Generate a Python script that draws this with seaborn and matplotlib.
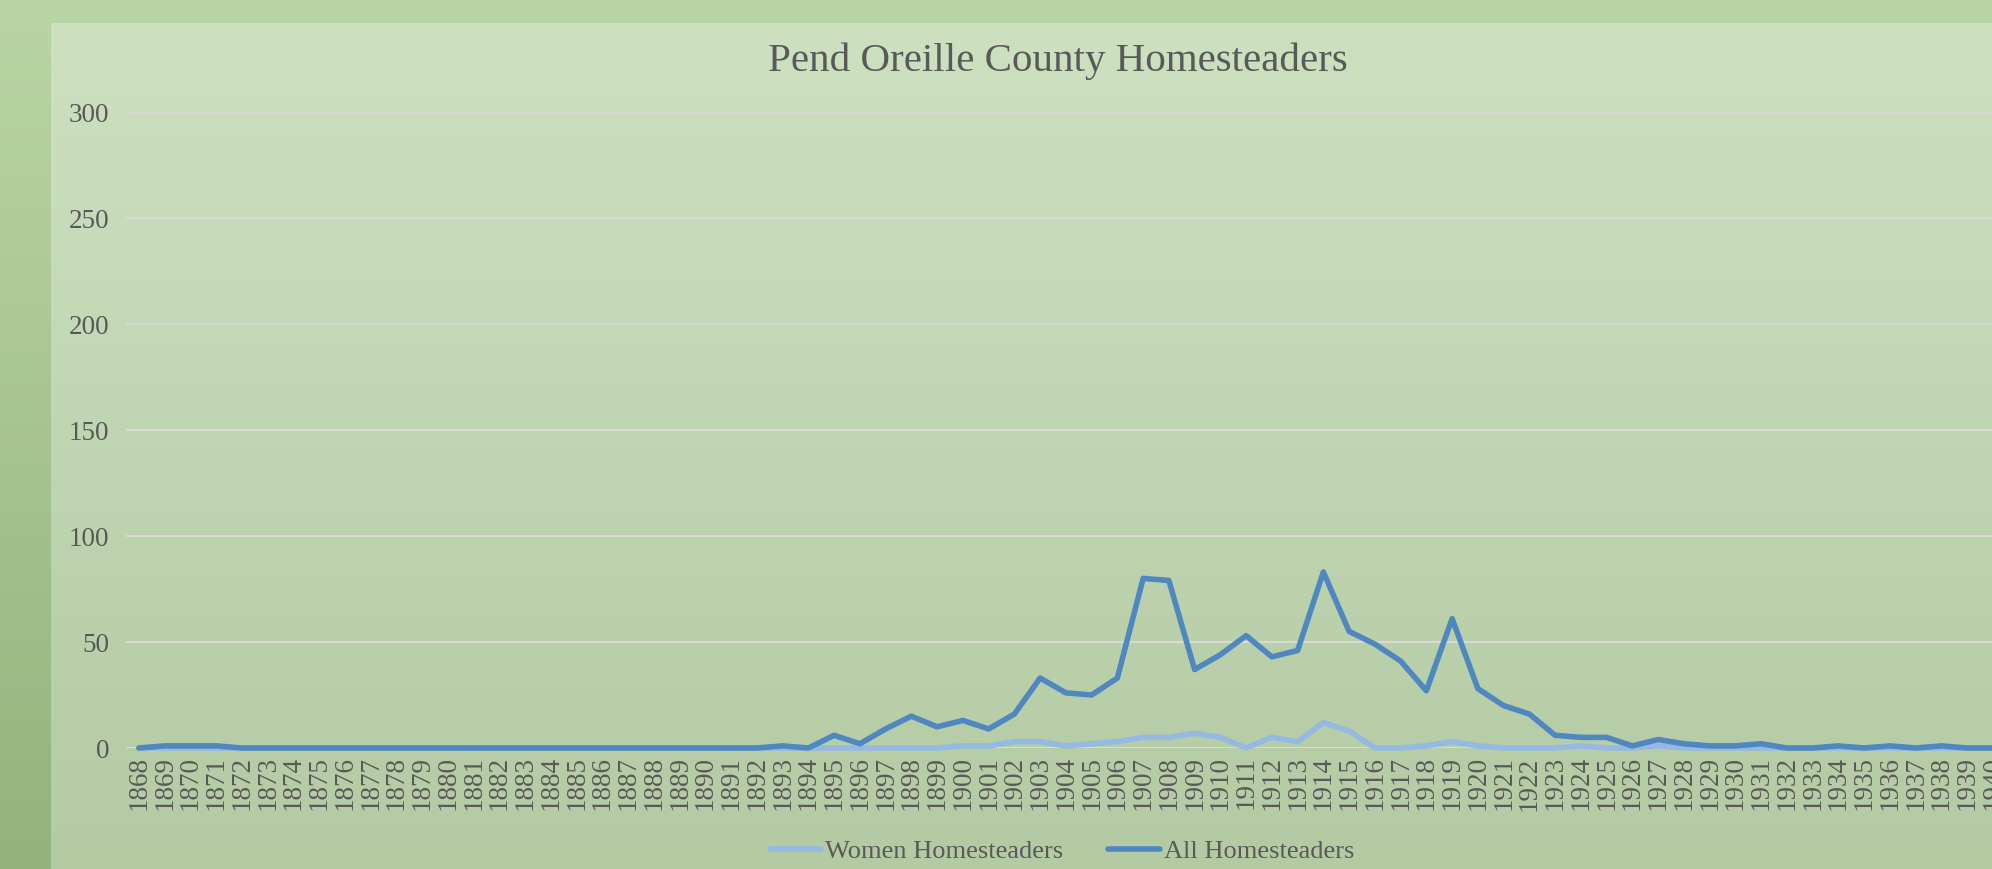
import numpy as np
import pandas as pd
import matplotlib
matplotlib.use("Agg")
import matplotlib.pyplot as plt
import matplotlib.colors as mcolors
import seaborn as sns

# values, 1868-1942
years = list(range(1868, 1943))
all_homesteaders = [
    0, 1, 1, 1, 0, 0, 0, 0, 0, 0,          # 1868-1877
    0, 0, 0, 0, 0, 0, 0, 0, 0, 0,          # 1878-1887
    0, 0, 0, 0, 0, 1, 0, 6, 2, 9,          # 1888-1897
    15, 10, 13, 9, 16, 33, 26, 25, 33, 80,  # 1898-1907
    79, 37, 44, 53, 43, 46, 83, 55, 49, 41,  # 1908-1917
    27, 61, 28, 20, 16, 6, 5, 5, 1, 4,     # 1918-1927
    2, 1, 1, 2, 0, 0, 1, 0, 1, 0,          # 1928-1937
    1, 0, 0, 0, 0,                         # 1938-1942
]
women_homesteaders = [
    0, 0, 0, 0, 0, 0, 0, 0, 0, 0,
    0, 0, 0, 0, 0, 0, 0, 0, 0, 0,
    0, 0, 0, 0, 0, 0, 0, 0, 0, 0,
    0, 0, 1, 1, 3, 3, 1, 2, 3, 5,
    5, 7, 5, 0, 5, 3, 12, 8, 0, 0,
    1, 3, 1, 0, 0, 0, 1, 0, 0, 1,
    0, 0, 0, 0, 0, 0, 0, 0, 0, 0,
    0, 0, 0, 0, 0,
]
series_names = ["Women Homesteaders", "All Homesteaders"]
y_ticks = [0, 50, 100, 150, 200, 250, 300]

df = pd.DataFrame({"Year": years,
                   "Women Homesteaders": women_homesteaders,
                   "All Homesteaders": all_homesteaders})
long_df = df.melt(id_vars="Year", var_name="Series", value_name="Count")

sns.set_style("white")
plt.rcParams["font.family"] = ["Liberation Serif", "DejaVu Serif"]
txt = "#595959"

W, H = 1992, 869
fig = plt.figure(figsize=(W / 100, H / 100), dpi=100)


def gradient(c_top, c_bot, n=256):
    a = np.array(mcolors.to_rgb(c_top))
    b = np.array(mcolors.to_rgb(c_bot))
    t = np.linspace(0, 1, n)[:, None]
    return (a * (1 - t) + b * t)[:, None, :]


# outer background
bg = fig.add_axes([0, 0, 1, 1])
bg.imshow(gradient("#b9d5a5", "#94b37c"), aspect="auto", extent=[0, 1, 0, 1])
bg.axis("off")

# chart panel
panel = fig.add_axes([51 / W, 0, 1 - 51 / W, 1 - 23 / H])
panel.imshow(gradient("#cde1c1", "#b3caa3"), aspect="auto", extent=[0, 1, 0, 1])
panel.axis("off")

# plot area (runs off the right edge, as in the original)
step = 25.75
x0 = 126.0
x_right = 1942.5
ax_w = (x_right - 1867.5) * step
ax = fig.add_axes([x0 / W, (H - 748) / H, ax_w / W, (748 - 112) / H])
ax.set_facecolor("none")

sns.lineplot(data=long_df, x="Year", y="Count", hue="Series",
             hue_order=series_names, palette=["#95b9e0", "#4f88c0"],
             linewidth=4.0, ax=ax, legend=False, clip_on=False)
for ln in ax.lines:
    ln.set_solid_joinstyle("round")
    ln.set_solid_capstyle("round")

ax.set_xlim(1867.5, x_right)
ax.set_ylim(0, 300)
ax.set_yticks(y_ticks)
ax.set_xticks(years)
ax.set_xticklabels([str(y) for y in years], rotation=90)
ax.grid(axis="y", color="#d9d9d9", linewidth=1.5)
ax.set_axisbelow(True)
for s in ax.spines.values():
    s.set_visible(False)
ax.tick_params(axis="both", length=0, labelsize=19.5, colors=txt)
ax.tick_params(axis="y", pad=12)
ax.tick_params(axis="x", pad=6)
ax.set_xlabel("")
ax.set_ylabel("")

fig.text(1058 / W, 1 - 61 / H, "Pend Oreille County Homesteaders",
         ha="center", va="center", fontsize=29.5, color=txt)

handles = [plt.Line2D([], [], color=c, linewidth=4.0) for c in ["#95b9e0", "#4f88c0"]]
leg = fig.legend(handles, series_names, loc="center",
                 bbox_to_anchor=(1062 / W, 1 - 851 / H), ncol=2, frameon=False,
                 fontsize=19, handlelength=1.95, handletextpad=0.15,
                 columnspacing=1.7, labelcolor=txt)

fig.savefig("out.png", dpi=100)
